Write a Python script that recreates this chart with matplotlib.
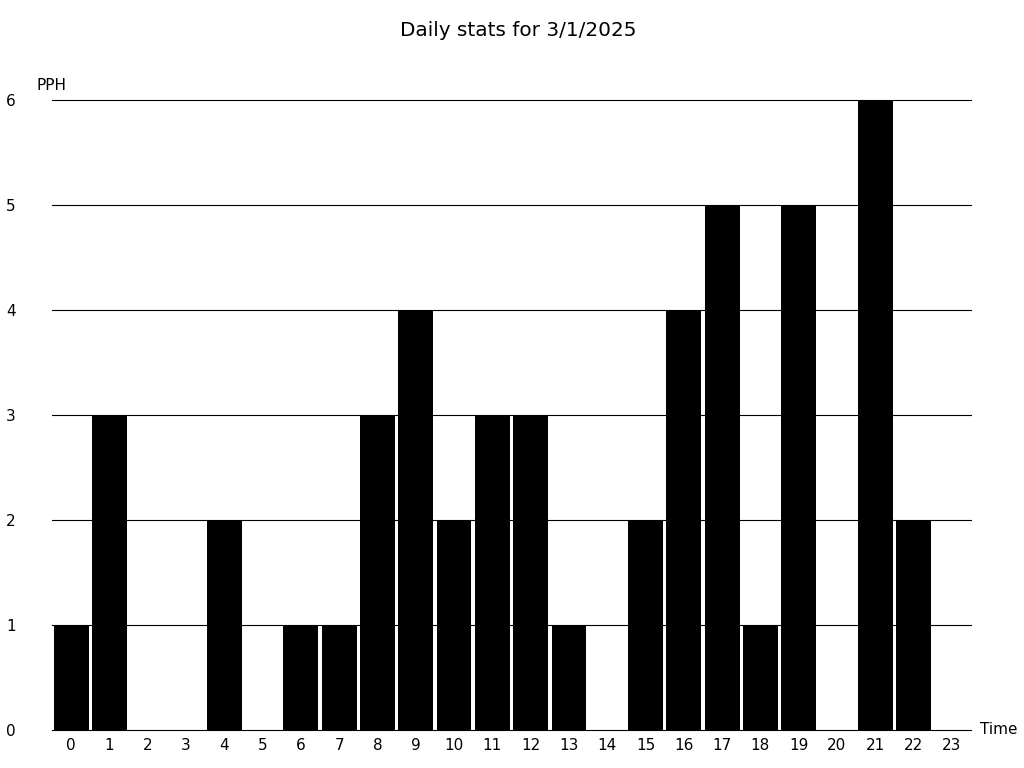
import numpy as np
import matplotlib.pyplot as plt

hours = list(range(24))
pph = [1, 3, 0, 0, 2, 0, 1, 1, 3, 4, 2, 3, 3, 1, 0, 2, 4, 5, 1, 5, 0, 6, 2, 0]
y_ticks = [0, 1, 2, 3, 4, 5, 6]

fig = plt.figure(figsize=(10.24, 7.68), dpi=100)
ax = fig.add_axes([52 / 1024, 38 / 768, 919 / 1024, 630 / 768])

ax.bar(hours, pph, width=0.91, color='black', zorder=3)
ax.set_xlim(-0.5, 23.5)
ax.set_ylim(0, 6)

ax.set_yticks(y_ticks)
ax.set_xticks(hours)
ax.set_xticklabels([str(h) for h in hours])
ax.yaxis.grid(True, color='black', linewidth=0.8, zorder=1)
for gl in ax.get_ygridlines():
    gl.set_clip_on(False)
ax.tick_params(axis='both', length=0, labelsize=11)
ax.tick_params(axis='y', pad=33)
ax.tick_params(axis='x', pad=6)
for lbl in ax.get_yticklabels():
    lbl.set_horizontalalignment('left')
for s in ax.spines.values():
    s.set_visible(False)

fig.text(0.5 + 6 / 1024, 1 - 30 / 768, 'Daily stats for 3/1/2025', ha='center', va='center', fontsize=14.4)
fig.text(37 / 1024, 1 - 85 / 768, 'PPH', ha='left', va='center', fontsize=11)
fig.text(980 / 1024, 1 - 730 / 768, 'Time', ha='left', va='center', fontsize=11)

fig.savefig('out.png', dpi=100)
